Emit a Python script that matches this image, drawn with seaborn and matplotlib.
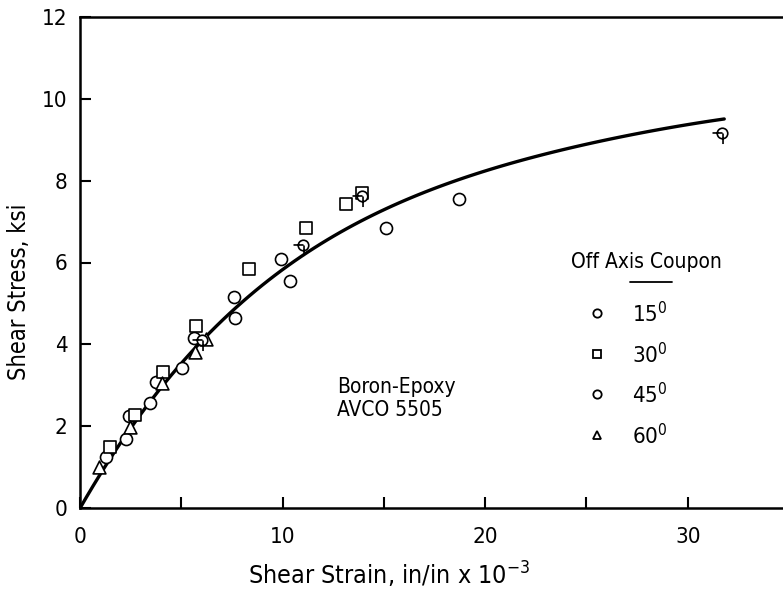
import numpy as np
import pandas as pd
import matplotlib
matplotlib.use("Agg")
import matplotlib.pyplot as plt
from matplotlib.path import Path
from matplotlib.lines import Line2D
import seaborn as sns

# ---- data ----
deg15_x = [1.30, 2.29, 2.40, 3.47, 3.77, 5.02, 5.63, 7.60, 7.65, 9.91, 10.36, 15.10, 18.72]
deg15_y = [1.24, 1.69, 2.24, 2.56, 3.07, 3.42, 4.16, 5.16, 4.64, 6.09, 5.56, 6.85, 7.56]

deg30_x = [1.50, 2.73, 4.08, 5.71, 8.35, 11.16, 13.12, 13.94]
deg30_y = [1.49, 2.28, 3.32, 4.46, 5.83, 6.85, 7.43, 7.69]

deg45_x = [6.00, 11.03, 13.90, 31.69]
deg45_y = [4.10, 6.42, 7.62, 9.17]

deg60_x = [0.92, 2.48, 4.06, 5.66, 6.20]
deg60_y = [1.01, 1.99, 3.05, 3.81, 4.12]

curve_x = [0, 1.5, 2.5, 5.04, 7.69, 9.83, 12.13, 14.9, 19.0, 23.2, 25.6, 28.9, 31.8]
curve_y = [0, 1.2, 1.95, 3.60, 4.85, 5.74, 6.56, 7.29, 8.07, 8.64, 8.98, 9.29, 9.50]

legend_labels = ["15$^0$", "30$^0$", "45$^0$", "60$^0$"]
x_ticks = [0, 5, 10, 15, 20, 25, 30]
x_tick_labels = ["0", "", "10", "", "20", "", "30"]
y_ticks = [0, 2, 4, 6, 8, 10, 12]

# ---- style ----
sns.set_style("ticks")
plt.rcParams["font.family"] = ["DejaVu Sans"]
plt.rcParams["font.stretch"] = "condensed"
plt.rcParams["mathtext.fontset"] = "custom"
plt.rcParams["mathtext.rm"] = "DejaVu Sans:stretch=condensed"
plt.rcParams["mathtext.it"] = "DejaVu Sans:stretch=condensed"
plt.rcParams["text.color"] = "black"
plt.rcParams["axes.labelcolor"] = "black"
plt.rcParams["xtick.color"] = "black"
plt.rcParams["ytick.color"] = "black"

fig = plt.figure(figsize=(7.83, 5.96), dpi=100)
ax = fig.add_axes([80 / 783, 88 / 596, 703 / 783, 491 / 596])

# flagged circle marker for 45 deg coupons
circ = Path.unit_circle()
flag = Path([(-1.9, 0.1), (0.0, 0.1), (0.1, 0.0), (0.1, -2.0)],
            [Path.MOVETO, Path.LINETO, Path.MOVETO, Path.LINETO])
flag_marker = Path.make_compound_path(circ, flag)

# fitted curve (smooth polynomial regression through the read curve points)
sns.regplot(x=curve_x, y=curve_y, order=4, scatter=False, ci=None, truncate=True,
            ax=ax, line_kws=dict(color="black", lw=2.4, zorder=2))

common = dict(ax=ax, facecolor="white", edgecolor="black", linewidth=1.2, zorder=3)
sns.scatterplot(x=deg15_x, y=deg15_y, marker="o", s=75, **common)
sns.scatterplot(x=deg30_x, y=deg30_y, marker="s", s=65, **common)
sns.scatterplot(x=deg60_x, y=deg60_y, marker="^", s=85, **common)
sns.scatterplot(x=deg45_x, y=deg45_y, marker=flag_marker, s=230, **common)

ax.set_xlim(0, 34.7)
ax.set_ylim(0, 12)
ax.set_xticks(x_ticks)
ax.set_xticklabels(x_tick_labels)
ax.set_yticks(y_ticks)
ax.tick_params(direction="in", length=8, width=1.5, labelsize=16)
ax.tick_params(axis="x", pad=14)
ax.tick_params(axis="y", pad=9)

for s in ["left", "bottom", "top"]:
    ax.spines[s].set_linewidth(1.8)
    ax.spines[s].set_color("black")
ax.spines["right"].set_visible(False)

ax.set_xlabel("Shear Strain, in/in x 10$^{-3}$", fontsize=18)
ax.set_ylabel("Shear Stress, ksi", fontsize=17)
ax.xaxis.set_label_coords(0.44, -0.105)
ax.yaxis.set_label_coords(-0.07, 0.44)

ax.text(12.7, 3.2, "Boron-Epoxy\nAVCO 5505", fontsize=15, va="top", ha="left",
        linespacing=1.2)

# legend (manual)
tr = ax.transAxes
def ax_x(px):
    return (px - 80) / 703
def ax_y(py):
    return (508 - py) / 491

ax.text(ax_x(646), ax_y(262), "Off Axis Coupon", fontsize=15, ha="center", va="center",
        transform=tr)
ax.add_line(Line2D([ax_x(630), ax_x(672)], [ax_y(282), ax_y(282)], color="black",
                   lw=1.3, transform=tr))
leg_markers = ["o", "s", "o", "^"]
leg_rows = [313, 354, 394, 435]
for mk, lab, py in zip(leg_markers, legend_labels, leg_rows):
    ax.plot([ax_x(597)], [ax_y(py)], marker=mk, ms=6, mfc="white", mec="black", mew=1.3,
            transform=tr, clip_on=False)
    ax.text(ax_x(632), ax_y(py + 1), lab, fontsize=16, ha="left", va="center",
            transform=tr)

fig.savefig("out.png", dpi=100)
